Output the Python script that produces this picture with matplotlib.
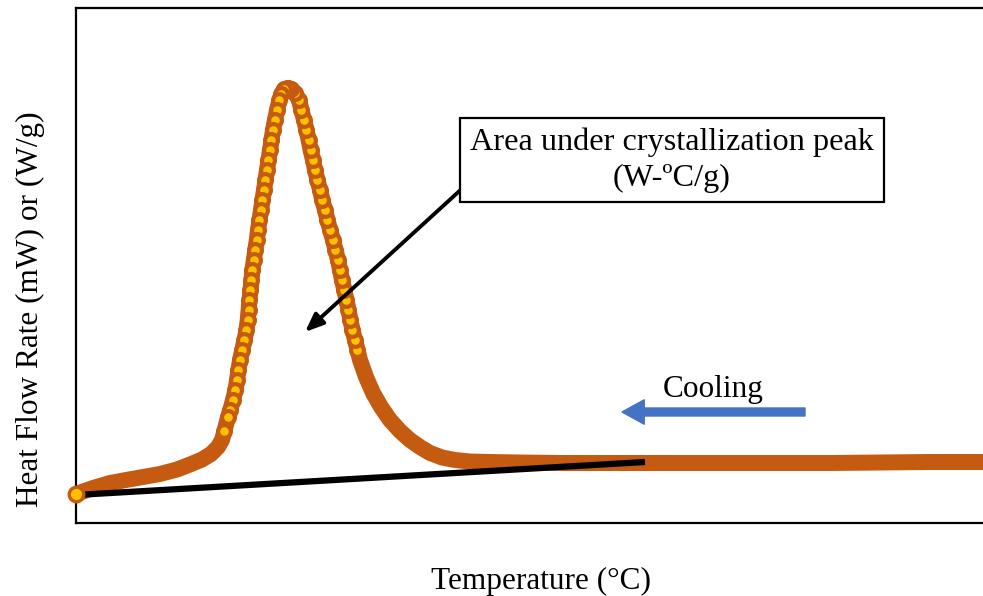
import matplotlib
matplotlib.use("Agg")
import matplotlib.pyplot as plt

plt.rcParams['font.family'] = ['Liberation Serif', 'DejaVu Serif']

# DSC cooling scan, listed in recording order (hot -> cold)
temperature = [150.7, 145.4, 140.4, 135.4, 130.4, 125.4, 120.4, 116.4, 112.4, 108.4,
               104.4, 101.4, 99.4, 97.9, 96.6, 95.4, 94.4, 93.4, 92.4, 91.4,
               90.5, 89.7, 89.0, 88.4,
               88.15, 87.9, 87.65, 87.45, 87.25, 87.05, 86.83, 86.6, 86.4, 86.2,
               85.95, 85.7, 85.42, 85.15, 84.9, 84.63, 84.4, 84.15, 83.9, 83.7,
               83.46, 83.26, 83.05, 82.8, 82.55, 82.3, 81.9, 81.55, 81.2,
               80.85, 80.55, 80.35, 80.1, 79.9, 79.7, 79.55, 79.4, 79.25, 79.1,
               78.95, 78.8, 78.65, 78.5, 78.35, 78.2, 78.08, 77.93, 77.78, 77.64,
               77.55, 77.45, 77.35, 77.26, 77.17, 77.05, 76.85, 76.63, 76.4, 76.25,
               76.1, 75.95, 75.7, 75.43, 75.2,
               74.85, 74.6, 74.2, 73.5, 72.6, 71.4, 70.1, 68.4, 66.7, 65.0,
               63.4, 61.7, 60.0]
heat_flow = [6.1, 6.1, 6.05, 6.0, 6.0, 6.0, 6.0, 6.0, 6.0, 6.0,
             6.05, 6.1, 6.15, 6.3, 6.55, 7.0, 7.6, 8.3, 9.2, 10.3,
             11.6, 13.0, 14.6, 16.3,
             17.3, 18.3, 19.3, 20.3, 21.3, 22.3, 23.3, 24.3, 25.3, 26.3,
             27.3, 28.3, 29.3, 30.3, 31.3, 32.3, 33.3, 34.3, 35.3, 36.3,
             37.3, 38.3, 39.3, 40.3, 41.3, 42.3, 43.0, 43.4, 43.5,
             43.4, 42.9, 42.3, 41.3, 40.3, 39.3, 38.3, 37.3, 36.3, 35.3,
             34.3, 33.3, 32.3, 31.3, 30.3, 29.3, 28.3, 27.3, 26.3, 25.3,
             24.3, 23.3, 22.3, 21.3, 20.3, 19.3, 18.3, 17.3, 16.3, 15.3,
             14.3, 13.3, 12.3, 11.3, 10.6,
             9.2, 8.3, 7.6, 6.9, 6.35, 5.85, 5.35, 4.9, 4.6, 4.3,
             4.0, 3.5, 2.9]

# sparse points through the peak (dense elsewhere, so only the band shows)
peak_start = 24
peak_end = 89

# integration baseline under the peak
baseline_temp = [60.0, 116.9]
baseline_flow = [2.8, 6.1]

orange = "#C55A11"
yellow = "#FFC000"

fig = plt.figure(figsize=(9.83, 5.96), dpi=100)
ax = fig.add_axes([76 / 983, 73 / 596, 930 / 983, 515 / 596])

ax.plot(temperature, heat_flow, color=orange, lw=11.5, solid_capstyle="round",
        solid_joinstyle="round", zorder=2)
ax.scatter(temperature[peak_start:peak_end], heat_flow[peak_start:peak_end], s=85,
           c=yellow, edgecolors=orange, linewidths=3.0, zorder=3)
ax.scatter(temperature[-1:], heat_flow[-1:], s=110, c=yellow, edgecolors=orange,
           linewidths=2.4, zorder=5, clip_on=False)

ax.plot(baseline_temp, baseline_flow, color="black", lw=4.5, solid_capstyle="butt", zorder=4)

ax.set_xlim(60, 153.0)
ax.set_ylim(0, 51.5)
ax.set_xticks([])
ax.set_yticks([])
ax.spines["right"].set_visible(False)
for side in ["left", "top", "bottom"]:
    ax.spines[side].set_linewidth(1.6)

ax.set_xlabel("Temperature (\u00b0C)", fontsize=22.5)
ax.xaxis.set_label_coords(0.5, -0.085)
ax.set_ylabel("Heat Flow Rate (mW) or (W/g)", fontsize=22.5)
ax.yaxis.set_label_coords(-0.033, 0.415)

# annotation box with arrow pointing into the peak area
ax.text(119.6, 36.3, "Area under crystallization peak\n(W-\u00baC/g)", fontsize=23.2,
        ha="center", va="center", linespacing=1.3, zorder=6,
        bbox=dict(boxstyle="square,pad=0.3", fc="white", ec="black", lw=1.6))
ax.annotate("", xy=(82.9, 19.1), xytext=(99.0, 33.8),
            arrowprops=dict(arrowstyle="-|>,head_length=1.1,head_width=0.45",
                            color="black", lw=2.8, shrinkA=0, shrinkB=0), zorder=5)

# cooling direction
ax.annotate("", xy=(114.6, 11.1), xytext=(132.9, 11.1),
            arrowprops=dict(arrowstyle="simple,head_length=1.0,head_width=1.1,tail_width=0.36",
                            color="#4472C4", mutation_scale=16, shrinkA=0, shrinkB=0))
ax.text(123.7, 13.4, "Cooling", fontsize=22.5, ha="center", va="center")

fig.savefig("out.png", dpi=100)
